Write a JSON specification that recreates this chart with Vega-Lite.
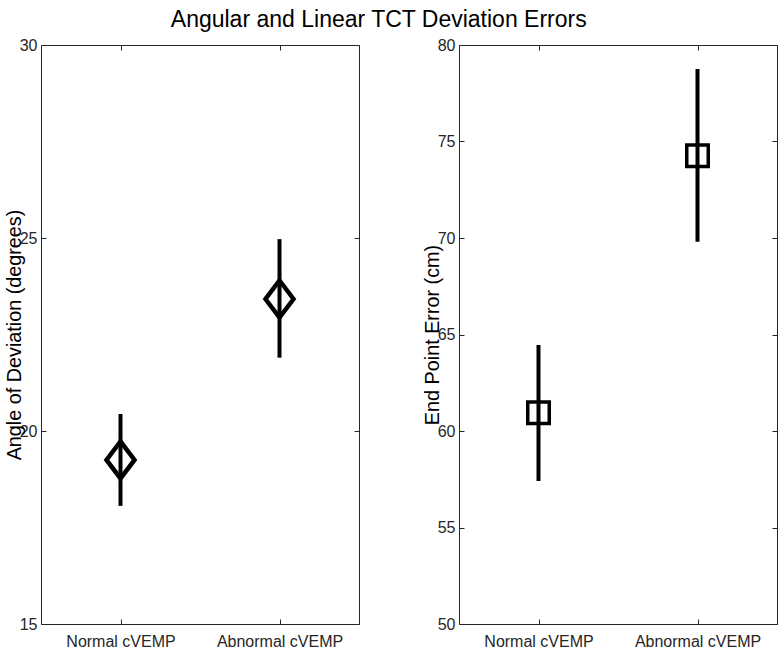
{
  "$schema": "https://vega.github.io/schema/vega-lite/v6.json",
  "autosize": "none",
  "padding": {"left": 41, "top": 45, "right": 740, "bottom": 29},
  "config": {
    "font": "Liberation Sans",
    "view": {"stroke": "#262626", "strokeWidth": 1},
    "axis": {
      "grid": false,
      "domain": false,
      "tickSize": -5,
      "tickColor": "#262626",
      "labelFont": "Liberation Sans",
      "labelFontSize": 16,
      "labelColor": "#262626",
      "titleFont": "Liberation Sans",
      "titleFontSize": 19.8,
      "titleFontWeight": "normal",
      "titleColor": "#000000"
    }
  },
  "title": {
    "text": "Angular and Linear TCT Deviation Errors",
    "fontSize": 23,
    "fontWeight": "normal",
    "font": "Liberation Sans",
    "color": "#000000",
    "anchor": "middle",
    "baseline": "alphabetic",
    "offset": 13,
    "dy": 26,
    "dx": -12
  },
  "datasets": {
    "angular": [
      {"group": "Normal cVEMP", "mean": 19.25, "lo": 18.06, "hi": 20.44},
      {"group": "Abnormal cVEMP", "mean": 23.42, "lo": 21.9, "hi": 24.97}
    ],
    "linear": [
      {"group": "Normal cVEMP", "mean": 60.95, "lo": 57.41, "hi": 64.46},
      {"group": "Abnormal cVEMP", "mean": 74.26, "lo": 69.81, "hi": 78.76}
    ]
  },
  "spacing": 100,
  "bounds": "flush",
  "hconcat": [
    {
      "width": 318,
      "height": 579,
      "data": {"name": "angular"},
      "layer": [
        {
          "mark": {"type": "rule", "strokeWidth": 4, "color": "#000000"},
          "encoding": {
            "x": {"field": "group", "type": "nominal", "sort": ["Normal cVEMP", "Abnormal cVEMP"],
                  "scale": {"type": "point", "padding": 0.5, "domain": ["Normal cVEMP", "Abnormal cVEMP"]},
                  "axis": {"orient": "bottom", "title": null, "labelAngle": 0, "labelPadding": 14}},
            "y": {"field": "lo", "type": "quantitative",
                  "scale": {"domain": [15, 30], "nice": false, "zero": false},
                  "axis": {"orient": "left", "values": [15, 20, 25, 30], "title": "Angle of Deviation (degrees)",
                           "titleX": -21, "titleY": 289.5, "titleBaseline": "alphabetic", "titleAngle": -90, "labelPadding": 9}},
            "y2": {"field": "hi"}
          }
        },
        {
          "mark": {"type": "point", "filled": false, "strokeWidth": 4.5, "color": "#000000", "opacity": 1,
                   "shape": "M0,-1L0.757,0L0,1L-0.757,0Z", "size": 1369},
          "encoding": {
            "x": {"field": "group", "type": "nominal",
                  "axis": {"orient": "top", "title": null, "labels": false}},
            "y": {"field": "mean", "type": "quantitative",
                  "axis": {"orient": "right", "values": [15, 20, 25, 30], "title": null, "labels": false}}
          }
        }
      ]
    },
    {
      "width": 318,
      "height": 579,
      "data": {"name": "linear"},
      "layer": [
        {
          "mark": {"type": "rule", "strokeWidth": 4, "color": "#000000"},
          "encoding": {
            "x": {"field": "group", "type": "nominal", "sort": ["Normal cVEMP", "Abnormal cVEMP"],
                  "scale": {"type": "point", "padding": 0.5, "domain": ["Normal cVEMP", "Abnormal cVEMP"]},
                  "axis": {"orient": "bottom", "title": null, "labelAngle": 0, "labelPadding": 14}},
            "y": {"field": "lo", "type": "quantitative",
                  "scale": {"domain": [50, 80], "nice": false, "zero": false},
                  "axis": {"orient": "left", "values": [50, 55, 60, 65, 70, 75, 80], "title": "End Point Error (cm)",
                           "titleX": -21, "titleY": 289.5, "titleBaseline": "alphabetic", "titleAngle": -90, "labelPadding": 9}},
            "y2": {"field": "hi"}
          }
        },
        {
          "mark": {"type": "point", "filled": false, "strokeWidth": 3.5, "color": "#000000", "opacity": 1,
                   "shape": "square", "size": 462},
          "encoding": {
            "x": {"field": "group", "type": "nominal",
                  "axis": {"orient": "top", "title": null, "labels": false}},
            "y": {"field": "mean", "type": "quantitative",
                  "axis": {"orient": "right", "values": [50, 55, 60, 65, 70, 75, 80], "title": null, "labels": false}}
          }
        }
      ]
    }
  ]
}
